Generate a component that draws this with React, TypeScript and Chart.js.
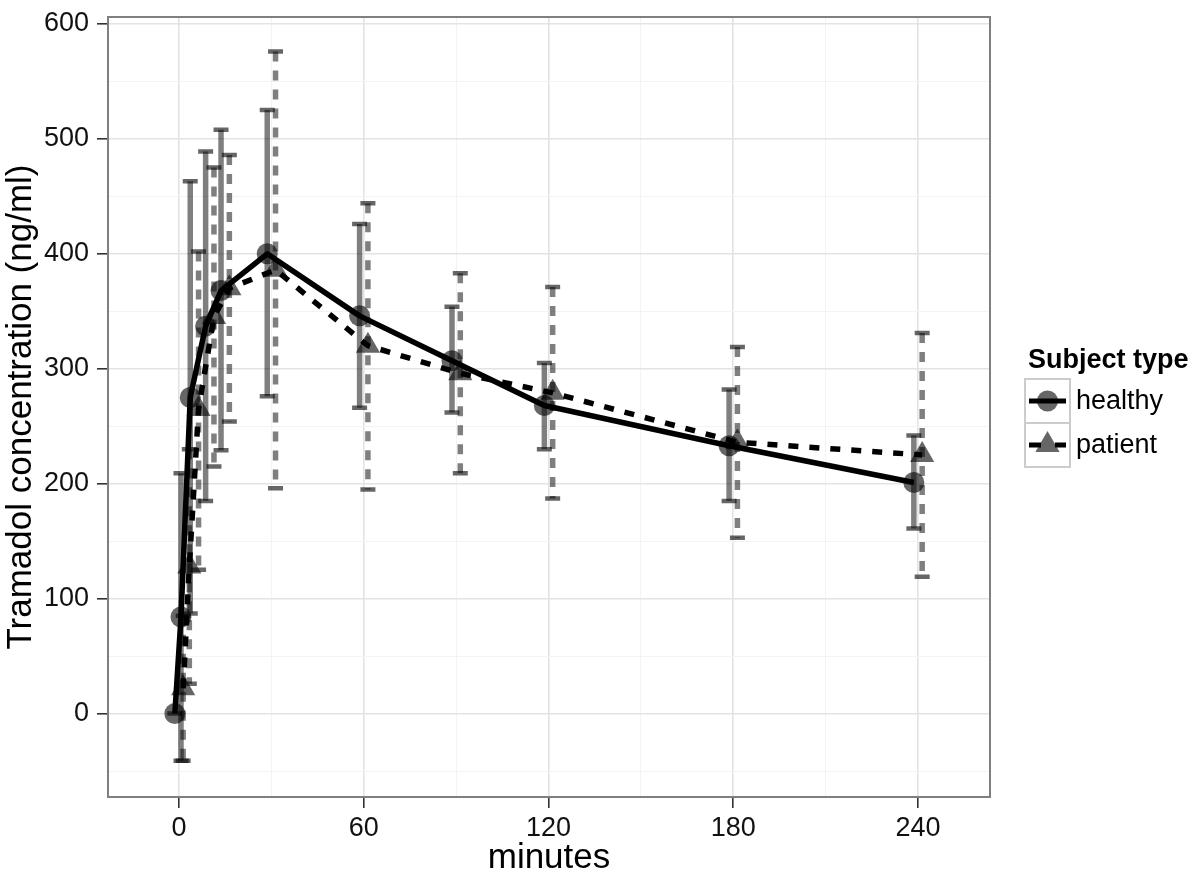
import React, { useEffect, useRef } from 'react';
import { Chart, registerables } from 'chart.js';

Chart.register(...registerables);

const minutes = [0, 2, 5, 10, 15, 30, 60, 90, 120, 180, 240];
const healthyMean = [0, 84, 275, 337, 368, 400, 346, 307, 268, 233, 201];
const healthyLower = [0, -41, 87, 185, 229, 276, 266, 262, 230, 185, 161];
const healthyUpper = [0, 209, 463, 489, 508, 525, 426, 354, 305, 282, 242];
const patientMean = [22, 128, 265, 345, 370, 386, 320, 296, 279, 236, 225];
const patientLower = [-41, 26, 125, 215, 254, 196, 195, 209, 187, 153, 119];
const patientUpper = [85, 230, 402, 475, 486, 576, 444, 383, 371, 319, 331];

const xMajorTicks = [0, 60, 120, 180, 240];
const xMinorTicks = [30, 90, 150, 210];
const yMajorTicks = [0, 100, 200, 300, 400, 500, 600];
const yMinorTicks = [-50, 50, 150, 250, 350, 450, 550];

const seriesNames = ['healthy', 'patient'];
const legendTitle = 'Subject type';
const xTitle = 'minutes';
const yTitle = 'Tramadol concentration (ng/ml)';

const DODGE = 1.35;
const FONT = "'Liberation Sans', Arial, Helvetica, sans-serif";
const POINT_FILL = 'rgba(0,0,0,0.6)';
const BAR_COLOR = 'rgba(0,0,0,0.5)';
const CAP_COLOR = 'rgba(0,0,0,0.6)';
const LINE_DASH = [10, 11];
const BAR_DASH = [10, 9];

const errorBarPlugin = {
  id: 'errorBars',
  beforeDatasetsDraw(chart: any) {
    const { ctx, chartArea, scales } = chart;
    const x = scales.x;
    const y = scales.y;
    ctx.save();
    ctx.beginPath();
    ctx.rect(chartArea.left, chartArea.top, chartArea.right - chartArea.left, chartArea.bottom - chartArea.top);
    ctx.clip();
    const series = [
      { lower: healthyLower, upper: healthyUpper, offset: -DODGE, dash: [] as number[] },
      { lower: patientLower, upper: patientUpper, offset: DODGE, dash: BAR_DASH },
    ];
    const half = 7.5;
    series.forEach((s) => {
      minutes.forEach((m, i) => {
        const px = x.getPixelForValue(m + s.offset);
        const pLo = y.getPixelForValue(s.lower[i]);
        const pHi = y.getPixelForValue(s.upper[i]);
        ctx.lineCap = 'butt';
        ctx.strokeStyle = BAR_COLOR;
        ctx.lineWidth = 5.5;
        ctx.setLineDash(s.dash);
        ctx.beginPath();
        ctx.moveTo(px, pHi);
        ctx.lineTo(px, pLo);
        ctx.stroke();
        ctx.setLineDash([]);
        ctx.strokeStyle = CAP_COLOR;
        ctx.lineWidth = 4.5;
        ctx.beginPath();
        ctx.moveTo(px - half, pHi);
        ctx.lineTo(px + half, pHi);
        ctx.moveTo(px - half, pLo);
        ctx.lineTo(px + half, pLo);
        ctx.stroke();
      });
    });
    ctx.restore();
  },
  afterDraw(chart: any) {
    const { ctx, chartArea } = chart;
    ctx.save();
    // panel border
    ctx.strokeStyle = '#7f7f7f';
    ctx.lineWidth = 2;
    ctx.setLineDash([]);
    ctx.strokeRect(chartArea.left, chartArea.top, chartArea.right - chartArea.left, chartArea.bottom - chartArea.top);

    // legend
    const lx = 1025;
    ctx.fillStyle = '#000';
    ctx.font = `bold 27px ${FONT}`;
    ctx.textAlign = 'left';
    ctx.textBaseline = 'alphabetic';
    ctx.fillText(legendTitle, 1028, 368);

    const keyW = 45;
    const keyH = 44;
    const tops = [379, 423];
    tops.forEach((top, i) => {
      ctx.fillStyle = '#ffffff';
      ctx.fillRect(lx, top, keyW, keyH);
      ctx.strokeStyle = '#cccccc';
      ctx.lineWidth = 2;
      ctx.setLineDash([]);
      ctx.strokeRect(lx, top, keyW, keyH);
      const cx = lx + keyW / 2;
      const cy = top + keyH / 2;
      ctx.fillStyle = POINT_FILL;
      ctx.beginPath();
      if (i === 0) {
        ctx.arc(cx, cy, 10.5, 0, Math.PI * 2);
      } else {
        const r = 14;
        ctx.moveTo(cx, cy - r);
        ctx.lineTo(cx + r * Math.sin((2 * Math.PI) / 3), cy - r * Math.cos((2 * Math.PI) / 3));
        ctx.lineTo(cx + r * Math.sin((4 * Math.PI) / 3), cy - r * Math.cos((4 * Math.PI) / 3));
        ctx.closePath();
      }
      ctx.fill();
      ctx.strokeStyle = '#000';
      ctx.lineWidth = 5;
      ctx.lineCap = 'butt';
      ctx.setLineDash(i === 0 ? [] : [12, 14]);
      ctx.beginPath();
      ctx.moveTo(lx + 4, cy);
      ctx.lineTo(lx + keyW - 4, cy);
      ctx.stroke();
      ctx.setLineDash([]);
      ctx.fillStyle = '#000';
      ctx.font = `27px ${FONT}`;
      ctx.textBaseline = 'middle';
      ctx.fillText(seriesNames[i], 1076, cy + 1);
    });
    ctx.restore();
  },
};

function makeScaleGrid(major: number[]) {
  return {
    color: (c: any) => (c.tick && major.includes(c.tick.value) ? '#e3e3e3' : '#f3f3f3'),
    lineWidth: (c: any) => (c.tick && major.includes(c.tick.value) ? 1.6 : 1),
    tickColor: (c: any) => (c.tick && major.includes(c.tick.value) ? '#333333' : 'rgba(0,0,0,0)'),
    tickWidth: 1.6,
    tickLength: 11,
    drawTicks: true,
    drawOnChartArea: true,
  };
}

export default function App() {
  const canvasRef = useRef<HTMLCanvasElement | null>(null);

  useEffect(() => {
    if (!canvasRef.current) return;
    const healthyPts = minutes.map((m, i) => ({ x: m - DODGE, y: healthyMean[i] }));
    const patientPts = minutes.map((m, i) => ({ x: m + DODGE, y: patientMean[i] }));

    const chart = new Chart(canvasRef.current, {
      type: 'scatter',
      data: {
        datasets: [
          {
            label: seriesNames[0] + ' line',
            data: healthyPts,
            showLine: true,
            borderColor: '#000',
            borderWidth: 5.5,
            pointRadius: 0,
            tension: 0,
            borderJoinStyle: 'round',
            order: 0,
          } as any,
          {
            label: seriesNames[1] + ' line',
            data: patientPts,
            showLine: true,
            borderColor: '#000',
            borderWidth: 5.5,
            borderDash: LINE_DASH,
            pointRadius: 0,
            tension: 0,
            borderJoinStyle: 'round',
            order: 0,
          } as any,
          {
            label: seriesNames[0],
            data: healthyPts,
            showLine: false,
            pointStyle: 'circle',
            pointRadius: 10.5,
            pointBackgroundColor: POINT_FILL,
            pointBorderWidth: 0,
            pointBorderColor: 'rgba(0,0,0,0)',
            order: 1,
          } as any,
          {
            label: seriesNames[1],
            data: patientPts,
            showLine: false,
            pointStyle: 'triangle',
            pointRadius: 14,
            pointBackgroundColor: POINT_FILL,
            pointBorderWidth: 0,
            pointBorderColor: 'rgba(0,0,0,0)',
            order: 1,
          } as any,
        ],
      },
      options: {
        responsive: false,
        animation: false,
        devicePixelRatio: 1,
        layout: { padding: { left: 0, right: 210, top: 17, bottom: 0 } },
        plugins: {
          legend: { display: false },
          tooltip: { enabled: false },
        },
        scales: {
          x: {
            type: 'linear',
            min: -23.06,
            max: 263.38,
            afterBuildTicks: (scale: any) => {
              scale.ticks = [...xMajorTicks, ...xMinorTicks].sort((a, b) => a - b).map((v) => ({ value: v }));
            },
            afterFit: (scale: any) => {
              scale.height = 83;
              scale.paddingLeft = 0;
              scale.paddingRight = 0;
            },
            grid: makeScaleGrid(xMajorTicks) as any,
            border: { display: false },
            ticks: {
              autoSkip: false,
              maxRotation: 0,
              padding: 4,
              color: '#111',
              font: { family: FONT, size: 27 },
              callback: (v: any) => (xMajorTicks.includes(Number(v)) ? String(v) : ''),
            },
            title: {
              display: true,
              text: xTitle,
              color: '#000',
              font: { family: FONT, size: 35 },
              padding: { top: 0, bottom: 1 },
            },
          },
          y: {
            type: 'linear',
            min: -72.6,
            max: 606,
            afterBuildTicks: (scale: any) => {
              scale.ticks = [...yMajorTicks, ...yMinorTicks].sort((a, b) => a - b).map((v) => ({ value: v }));
            },
            afterFit: (scale: any) => {
              scale.width = 108;
              scale.paddingTop = 0;
              scale.paddingBottom = 0;
            },
            grid: makeScaleGrid(yMajorTicks) as any,
            border: { display: false },
            ticks: {
              autoSkip: false,
              padding: 8,
              color: '#111',
              font: { family: FONT, size: 27 },
              callback: (v: any) => (yMajorTicks.includes(Number(v)) ? String(v) : ''),
            },
            title: {
              display: true,
              text: yTitle,
              color: '#000',
              font: { family: FONT, size: 35 },
              padding: { top: 0, bottom: 0 },
            },
          },
        },
      } as any,
      plugins: [errorBarPlugin],
    });
    return () => chart.destroy();
  }, []);

  return (
    <div style={{ position: 'absolute', left: 0, top: 0, width: 1200, height: 880, background: '#ffffff' }}>
      <canvas ref={canvasRef} width={1200} height={880} style={{ width: 1200, height: 880, display: 'block' }} />
    </div>
  );
}
